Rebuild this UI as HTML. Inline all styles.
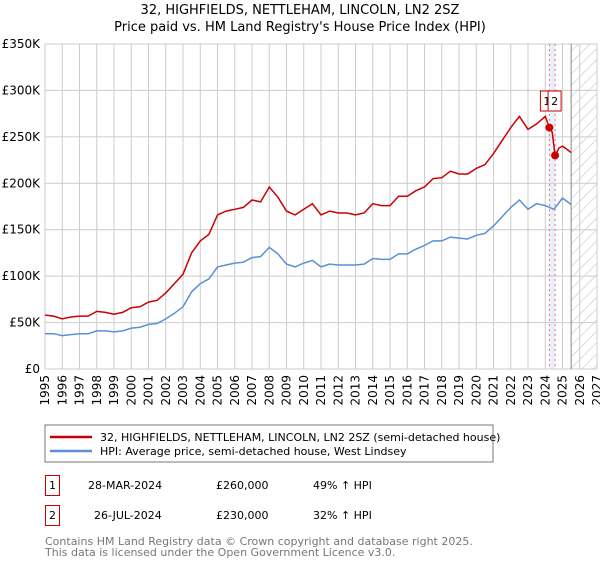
<!DOCTYPE html>
<html><head><meta charset="utf-8"><style>
body{margin:0;background:#fff;font-family:"DejaVu Sans","Liberation Sans",sans-serif;}
svg text{font-family:"DejaVu Sans","Liberation Sans",sans-serif;}
</style></head><body>
<svg id="c" width="600" height="560" xmlns="http://www.w3.org/2000/svg">
<defs><pattern id="hatch" width="8" height="8" patternUnits="userSpaceOnUse" patternTransform="rotate(45)"><line x1="0" y1="0" x2="0" y2="8" stroke="#bbb" stroke-width="1"/></pattern></defs>
<text x="300" y="14" text-anchor="middle" font-size="13">32, HIGHFIELDS, NETTLEHAM, LINCOLN, LN2 2SZ</text>
<text x="300" y="31" text-anchor="middle" font-size="13">Price paid vs. HM Land Registry's House Price Index (HPI)</text>
<g id="grid"></g><g id="series"></g><g id="axes"></g>
<rect x="45" y="425" width="448" height="37" fill="#fff" stroke="#777"/>
<line x1="50" y1="437" x2="92" y2="437" stroke="#cc0000" stroke-width="2.5"/>
<text x="100" y="441" font-size="11">32, HIGHFIELDS, NETTLEHAM, LINCOLN, LN2 2SZ (semi-detached house)</text>
<line x1="50" y1="451" x2="92" y2="451" stroke="#5b8fd6" stroke-width="2.5"/>
<text x="100" y="455" font-size="11">HPI: Average price, semi-detached house, West Lindsey</text>
<g>
<rect x="45.5" y="475.5" width="14" height="20" fill="#fff" stroke="#cc0000"/>
<text x="52.5" y="489" text-anchor="middle" font-size="11">1</text>
<text x="88" y="489" font-size="11">28-MAR-2024</text>
<text x="216" y="489" font-size="11">£260,000</text>
<text x="313" y="489" font-size="11">49% ↑ HPI</text></g>
<g>
<rect x="45.5" y="505.5" width="14" height="20" fill="#fff" stroke="#cc0000"/>
<text x="52.5" y="519" text-anchor="middle" font-size="11">2</text>
<text x="94" y="519" font-size="11">26-JUL-2024</text>
<text x="216" y="519" font-size="11">£230,000</text>
<text x="313" y="519" font-size="11">32% ↑ HPI</text></g>
<text x="45" y="545" font-size="11" fill="#777">Contains HM Land Registry data © Crown copyright and database right 2025.</text>
<text x="45" y="556" font-size="11" fill="#777">This data is licensed under the Open Government Licence v3.0.</text>
</svg>
<script>
const yearTicks=[1995,1996,1997,1998,1999,2000,2001,2002,2003,2004,2005,2006,2007,2008,2009,2010,2011,2012,2013,2014,2015,2016,2017,2018,2019,2020,2021,2022,2023,2024,2025,2026,2027];
const priceTicks=[0,50,100,150,200,250,300,350];
const priceLabels=["£0","£50K","£100K","£150K","£200K","£250K","£300K","£350K"];
const hpiDates=[1995,1995.5,1996,1996.5,1997,1997.5,1998,1998.5,1999,1999.5,2000,2000.5,2001,2001.5,2002,2002.5,2003,2003.5,2004,2004.5,2005,2005.5,2006,2006.5,2007,2007.5,2008,2008.5,2009,2009.5,2010,2010.5,2011,2011.5,2012,2012.5,2013,2013.5,2014,2014.5,2015,2015.5,2016,2016.5,2017,2017.5,2018,2018.5,2019,2019.5,2020,2020.5,2021,2021.5,2022,2022.5,2023,2023.5,2024,2024.5,2025,2025.3,2025.5];
const hpiValues=[38,38,36,37,38,38,41,41,40,41,44,45,48,49,54,60,67,83,92,97,110,112,114,115,120,121,131,124,113,110,114,117,110,113,112,112,112,113,119,118,118,124,124,129,133,138,138,142,141,140,144,146,154,164,174,182,172,178,176,172,184,180,177];
const propDates=[1995,1995.5,1996,1996.5,1997,1997.5,1998,1998.5,1999,1999.5,2000,2000.5,2001,2001.5,2002,2002.5,2003,2003.5,2004,2004.5,2005,2005.5,2006,2006.5,2007,2007.5,2008,2008.5,2009,2009.5,2010,2010.5,2011,2011.5,2012,2012.5,2013,2013.5,2014,2014.5,2015,2015.5,2016,2016.5,2017,2017.5,2018,2018.5,2019,2019.5,2020,2020.5,2021,2021.5,2022,2022.5,2023,2023.5,2024,2024.24,2024.4,2024.57,2024.8,2025,2025.3,2025.5];
const propValues=[58,57,54,56,57,57,62,61,59,61,66,67,72,74,82,92,102,125,138,145,166,170,172,174,182,180,196,185,170,166,172,178,166,170,168,168,166,168,178,176,176,186,186,192,196,205,206,213,210,210,216,220,232,246,260,272,258,264,272,260,255,230,238,240,236,233];
const saleDates=[2024.24,2024.57];
const saleValues=[260,230];
const saleLabels=["1","2"];
const NS="http://www.w3.org/2000/svg";
const X0=45,X1=597,Y0=369,Y1=44;
const xs=d=>X0+(d-1995)/(2027-1995)*(X1-X0);
const ys=v=>Y0-v/350*(Y0-Y1);
function mk(tag,attrs,parent){const e=document.createElementNS(NS,tag);for(const k in attrs)e.setAttribute(k,attrs[k]);parent.appendChild(e);return e;}
const grid=document.getElementById('grid'),axes=document.getElementById('axes'),ser=document.getElementById('series');
// band and hatch
let band=mk('rect',{x:xs(saleDates[0]),y:Y1,width:xs(saleDates[1])-xs(saleDates[0]),height:Y0-Y1,fill:'#e8f0fb'},grid);


let hat=mk('rect',{x:xs(2025.5),y:Y1,width:X1-xs(2025.5),height:Y0-Y1,fill:'url(#hatch)'},grid);


yearTicks.forEach((y,i)=>{
 let l=mk('line',{x1:xs(y),x2:xs(y),y1:Y1,y2:Y0,stroke:'#ccc'},grid);
 
 
 let t=mk('text',{x:0,y:0,'font-size':12,'text-anchor':'end',transform:`translate(${xs(y)+4},${Y0+6}) rotate(-90)`},axes);
 t.textContent=y;
 
 
});
priceTicks.forEach((p,i)=>{
 let l=mk('line',{x1:X0,x2:X1,y1:ys(p),y2:ys(p),stroke:'#ccc'},grid);
 
 
 let t=mk('text',{x:X0-5,y:ys(p)+4,'font-size':12,'text-anchor':'end'},axes);
 t.textContent=priceLabels[i];
 
 
});
let gl=mk('line',{x1:xs(2025.5),x2:xs(2025.5),y1:Y1,y2:Y0,stroke:'#888'},grid);


saleDates.forEach(d=>{
 let l=mk('line',{x1:xs(d),x2:xs(d),y1:Y1,y2:Y0,stroke:'#f07070','stroke-dasharray':'2,3'},grid);
 
 
});
function path(ds,vs,col,name){
 let p=mk('path',{d:ds.map((d,i)=>(i?'L':'M')+xs(d).toFixed(1)+','+ys(vs[i]).toFixed(1)).join(''),fill:'none',stroke:col,'stroke-width':1.5},ser);
 
 
}
path(hpiDates,hpiValues,'#5b8fd6','hpi-line');
path(propDates,propValues,'#cc0000','property-price-line');
saleDates.forEach((d,i)=>{
 let c=mk('circle',{cx:xs(d),cy:ys(saleValues[i]),r:4,fill:'#cc0000'},ser);
 
 
});
saleDates.forEach((d,i)=>{
 let g=mk('g',{},ser);
 
 
 mk('rect',{x:xs(d)-9+i*2,y:91,width:13,height:20,fill:'#fff',stroke:'#cc0000'},g);
 let t=mk('text',{x:xs(d)-2.5+i*2,y:105,'font-size':11,'text-anchor':'middle'},g);
 t.textContent=saleLabels[i];
});
</script>
</body></html>
